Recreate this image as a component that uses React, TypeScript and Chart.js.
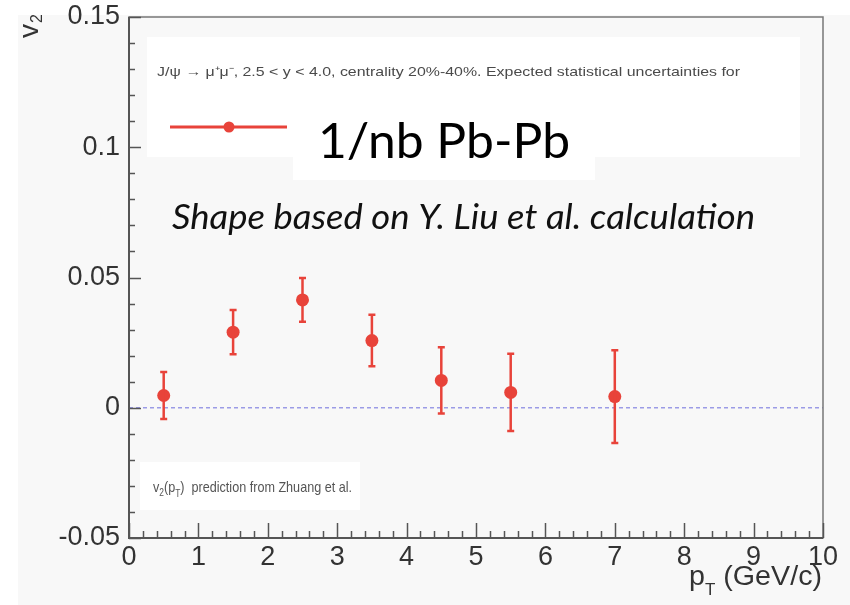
import React, { useEffect, useRef } from "react";
import { Chart, registerables } from "chart.js";
Chart.register(...registerables);

// ---- data ----
const pT = [0.5, 1.5, 2.5, 3.5, 4.5, 5.5, 7.0];
const v2 = [0.0047, 0.029, 0.0414, 0.0258, 0.0105, 0.0059, 0.0043];
const v2Err = [0.009, 0.0085, 0.0084, 0.0099, 0.0127, 0.0148, 0.0178];
const zeroLineX = [0, 10];
const xRange = [0, 10];
const yRange = [-0.05, 0.15];
const xMajorStep = 1;
const yMajorStep = 0.05;
const descText =
  "J/\u03C8 \u2192 \u03BC\u207A\u03BC\u207B, 2.5 < y < 4.0, centrality 20%-40%. Expected statistical uncertainties for";
const legendText = "1/nb Pb-Pb";
const shapeText = "Shape based on Y. Liu et al. calculation";
const predText = "prediction from Zhuang et al.";

const RED = "#e8433a";
const NARROW = "'Liberation Sans Narrow', 'Liberation Sans'";

type Seg = { t: string; font: string; dy: number };

function drawSegs(ctx: CanvasRenderingContext2D, segs: Seg[], x: number, y: number, targetW: number) {
  let total = 0;
  for (const s of segs) {
    ctx.font = s.font;
    total += ctx.measureText(s.t).width;
  }
  const k = targetW / total;
  ctx.save();
  ctx.translate(x, y);
  ctx.scale(k, 1);
  let cx = 0;
  for (const s of segs) {
    ctx.font = s.font;
    ctx.fillText(s.t, cx, s.dy);
    cx += ctx.measureText(s.t).width;
  }
  ctx.restore();
}

const decorPlugin = {
  id: "decor",
  beforeDraw(chart: any) {
    const ctx = chart.ctx;
    ctx.save();
    ctx.fillStyle = "#f8f8f8";
    ctx.fillRect(0, 0, chart.width, chart.height);
    ctx.fillStyle = "#ffffff";
    ctx.fillRect(0, 0, chart.width, 15);
    ctx.fillRect(0, 0, 18, chart.height);
    ctx.restore();
  },
  beforeDatasetsDraw(chart: any) {
    const ctx = chart.ctx;
    ctx.save();
    ctx.fillStyle = "#ffffff";
    ctx.fillRect(147, 37, 653, 120);
    ctx.fillRect(293, 100, 302, 80);
    ctx.fillRect(140, 462, 220, 48);
    ctx.restore();
  },
  afterDatasetsDraw(chart: any) {
    const ctx = chart.ctx;
    const xs = chart.scales.x;
    const ys = chart.scales.y;
    ctx.save();
    ctx.strokeStyle = RED;
    ctx.lineWidth = 2.5;
    for (let i = 0; i < pT.length; i++) {
      const px = xs.getPixelForValue(pT[i]);
      const t = ys.getPixelForValue(v2[i] + v2Err[i]);
      const b = ys.getPixelForValue(v2[i] - v2Err[i]);
      ctx.beginPath();
      ctx.moveTo(px, t);
      ctx.lineTo(px, b);
      ctx.moveTo(px - 3.5, t);
      ctx.lineTo(px + 3.5, t);
      ctx.moveTo(px - 3.5, b);
      ctx.lineTo(px + 3.5, b);
      ctx.stroke();
    }
    ctx.restore();
  },
  afterDraw(chart: any) {
    const ctx = chart.ctx;
    const a = chart.chartArea;
    const xs = chart.scales.x;
    const ys = chart.scales.y;
    ctx.save();
    // frame
    ctx.strokeStyle = "#777";
    ctx.lineWidth = 1.5;
    ctx.strokeRect(a.left, a.top, a.right - a.left, a.bottom - a.top);
    ctx.strokeStyle = "#555";
    ctx.lineWidth = 2;
    ctx.beginPath();
    ctx.moveTo(a.left, a.top);
    ctx.lineTo(a.left, a.bottom);
    ctx.lineTo(a.right, a.bottom);
    ctx.stroke();
    // ticks inside
    ctx.lineWidth = 1.5;
    ctx.strokeStyle = "#555";
    const nY = Math.round((yRange[1] - yRange[0]) / (yMajorStep / 5));
    for (let k = 0; k <= nY; k++) {
      const v = yRange[0] + (k * yMajorStep) / 5;
      const py = Math.round(ys.getPixelForValue(v)) + 0.5;
      const len = k % 5 === 0 ? 12 : 6;
      ctx.beginPath();
      ctx.moveTo(a.left, py);
      ctx.lineTo(a.left + len, py);
      ctx.stroke();
    }
    const nX = Math.round((xRange[1] - xRange[0]) / (xMajorStep / 5));
    for (let k = 0; k <= nX; k++) {
      const v = xRange[0] + (k * xMajorStep) / 5;
      const px = Math.round(xs.getPixelForValue(v)) + 0.5;
      const len = k % 5 === 0 ? 15 : 7;
      ctx.beginPath();
      ctx.moveTo(px, a.bottom);
      ctx.lineTo(px, a.bottom - len);
      ctx.stroke();
    }

    ctx.textBaseline = "alphabetic";
    ctx.textAlign = "left";
    // description
    ctx.fillStyle = "#4a4a4a";
    drawSegs(ctx, [{ t: descText, font: `13px ${NARROW}`, dy: 0 }], 157, 76, 583);
    // legend marker
    ctx.strokeStyle = RED;
    ctx.lineWidth = 3;
    ctx.beginPath();
    ctx.moveTo(170, 127);
    ctx.lineTo(287, 127);
    ctx.stroke();
    ctx.fillStyle = RED;
    ctx.beginPath();
    ctx.arc(229, 127, 5.5, 0, Math.PI * 2);
    ctx.fill();
    // legend text
    ctx.fillStyle = "#000";
    drawSegs(ctx, [{ t: legendText, font: "49px Lato", dy: 0 }], 318, 158, 252);
    // shape text
    ctx.fillStyle = "#111";
    drawSegs(ctx, [{ t: shapeText, font: "italic 35px Lato", dy: 0 }], 172, 229, 583);
    // prediction text
    ctx.fillStyle = "#555";
    const f14 = `15px ${NARROW}`;
    const f9 = `10px ${NARROW}`;
    drawSegs(
      ctx,
      [
        { t: "v", font: f14, dy: 0 },
        { t: "2", font: f9, dy: 4 },
        { t: "(p", font: f14, dy: 0 },
        { t: "T", font: f9, dy: 5 },
        { t: ")  " + predText, font: f14, dy: 0 },
      ],
      153,
      492,
      199
    );
    // x title
    ctx.fillStyle = "#333";
    drawSegs(
      ctx,
      [
        { t: "p", font: "27px 'Liberation Sans'", dy: 0 },
        { t: "T", font: "16px 'Liberation Sans'", dy: 10 },
        { t: " (GeV/c)", font: "27px 'Liberation Sans'", dy: 0 },
      ],
      689,
      585,
      133
    );
    // y title
    ctx.translate(38, 38);
    ctx.rotate(-Math.PI / 2);
    ctx.font = "28px 'Liberation Sans'";
    ctx.fillText("v", 0, 0);
    const wv = ctx.measureText("v").width;
    ctx.font = "16px 'Liberation Sans'";
    ctx.fillText("2", wv + 1, 4);
    ctx.restore();
  },
};

export default function App() {
  const ref = useRef<HTMLCanvasElement>(null);
  useEffect(() => {
    if (!ref.current) return;
    const chart = new Chart(ref.current, {
      type: "scatter",
      data: {
        datasets: [
          {
            data: zeroLineX.map((x) => ({ x, y: 0 })),
            showLine: true,
            borderColor: "#9b9be6",
            borderWidth: 1.3,
            borderDash: [4, 3],
            pointRadius: 0,
            order: 2,
          },
          {
            data: pT.map((x, i) => ({ x, y: v2[i] })),
            backgroundColor: RED,
            borderWidth: 0,
            pointRadius: 6.5,
            order: 1,
          },
        ],
      },
      options: {
        responsive: false,
        animation: false,
        devicePixelRatio: 1,
        layout: { padding: { top: 17, right: 27, left: 0, bottom: 0 } },
        plugins: { legend: { display: false }, tooltip: { enabled: false } },
        scales: {
          x: {
            type: "linear",
            min: xRange[0],
            max: xRange[1],
            grid: { display: false, drawTicks: false },
            border: { display: false },
            ticks: {
              stepSize: xMajorStep,
              padding: 3,
              color: "#333",
              font: { family: "'Liberation Sans'", size: 27 },
              callback: (v: any) => String(Math.round(v)),
            },
            afterFit: (s: any) => {
              s.height = 67;
              s.paddingLeft = 0;
              s.paddingRight = 0;
            },
          },
          y: {
            type: "linear",
            min: yRange[0],
            max: yRange[1],
            grid: { display: false, drawTicks: false },
            border: { display: false },
            ticks: {
              stepSize: yMajorStep,
              padding: 9,
              color: "#333",
              font: { family: "'Liberation Sans'", size: 27 },
              callback: (v: any) => String(Math.round(v * 100) / 100),
            },
            afterFit: (s: any) => {
              s.width = 129;
              s.paddingTop = 0;
              s.paddingBottom = 0;
            },
          },
        },
      },
      plugins: [decorPlugin],
    } as any);
    return () => chart.destroy();
  }, []);
  return (
    <div style={{ position: "absolute", left: 0, top: 0, width: 850, height: 605 }}>
      <canvas ref={ref} width={850} height={605} style={{ width: 850, height: 605 }} />
    </div>
  );
}
